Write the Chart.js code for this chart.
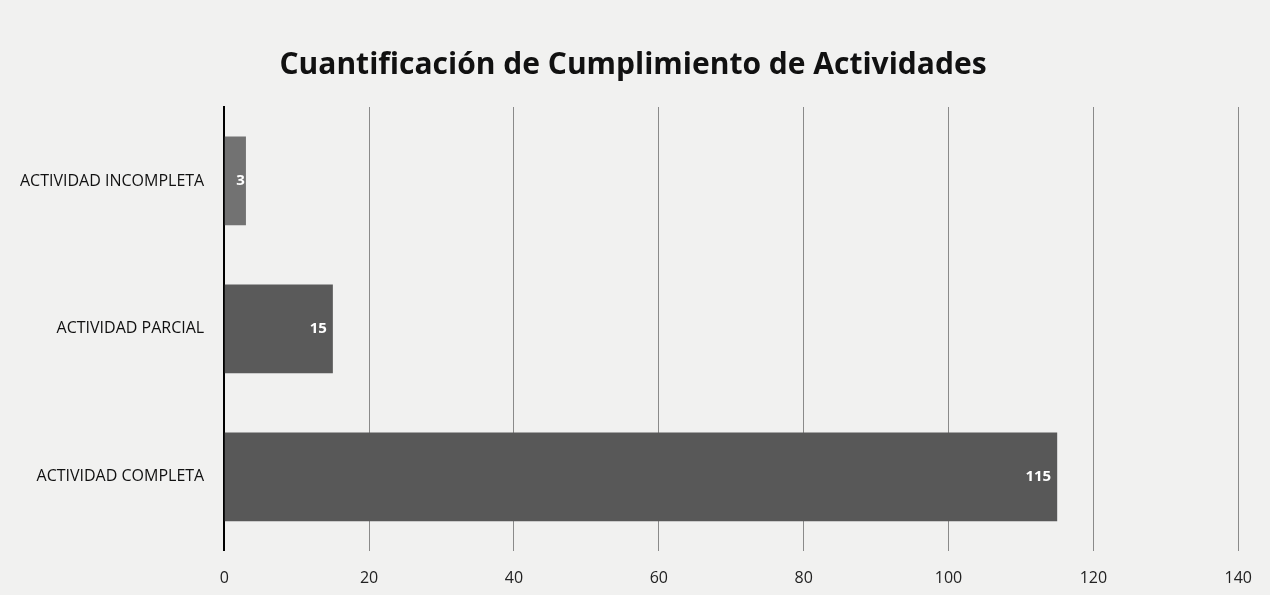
<!DOCTYPE html>
<html>
<head>
<meta charset="utf-8">
<script src="https://cdn.jsdelivr.net/npm/chart.js@4"></script>
<style>
  html, body { margin: 0; padding: 0; background: #f1f1f0; }
  #wrap { width: 1270px; height: 595px; }
</style>
</head>
<body>
<div id="wrap"><canvas id="chart"></canvas></div>
<script>
// ========== DATA ==========
const categories = ['ACTIVIDAD INCOMPLETA', 'ACTIVIDAD PARCIAL', 'ACTIVIDAD COMPLETA'];
const values = [3, 15, 115];
const barColors = ['#727272', '#5a5a5a', '#585858'];
const xTicks = [0, 20, 40, 60, 80, 100, 120, 140];

// ========== VALUE LABELS (inside end) ==========
const valueLabels = {
  id: 'valueLabels',
  afterDatasetsDraw(chart) {
    const ctx = chart.ctx;
    const meta = chart.getDatasetMeta(0);
    ctx.save();
    ctx.font = 'bold 15px "Open Sans", sans-serif';
    ctx.fillStyle = '#ffffff';
    ctx.textAlign = 'right';
    ctx.textBaseline = 'middle';
    meta.data.forEach((bar, i) => {
      ctx.fillText(String(values[i]), bar.x - (values[i] < 10 ? 1 : 6), bar.y);
    });
    ctx.restore();
  }
};

new Chart(document.getElementById('chart'), {
  type: 'bar',
  data: {
    labels: categories,
    datasets: [{
      data: values,
      backgroundColor: barColors,
      categoryPercentage: 0.6,
      barPercentage: 1.0
    }]
  },
  plugins: [valueLabels],
  options: {
    indexAxis: 'y',
    responsive: true,
    maintainAspectRatio: false,
    animation: false,
    layout: { padding: { left: 8, right: 12, top: 10, bottom: -11 } },
    plugins: {
      legend: { display: false },
      tooltip: { enabled: false },
      title: {
        display: true,
        text: 'Cuantificación de Cumplimiento de Actividades',
        color: '#111',
        font: { family: '"Open Sans", sans-serif', size: 30, weight: 'bold' },
        padding: { top: 37, bottom: 24 }
      }
    },
    scales: {
      x: {
        min: 0,
        max: 140,
        afterBuildTicks: axis => { axis.ticks = xTicks.map(v => ({ value: v })); },
        grid: { color: '#8a8a8a', lineWidth: 1, drawTicks: false },
        border: { display: false },
        ticks: {
          color: '#222',
          padding: 18,
          font: { family: '"Open Sans", sans-serif', size: 16 }
        }
      },
      y: {
        grid: { display: false },
        border: { display: true, color: '#000', width: 2 },
        ticks: {
          color: '#111',
          padding: 12,
          font: { family: '"Open Sans", sans-serif', size: 16 }
        }
      }
    }
  }
});
</script>
</body>
</html>
